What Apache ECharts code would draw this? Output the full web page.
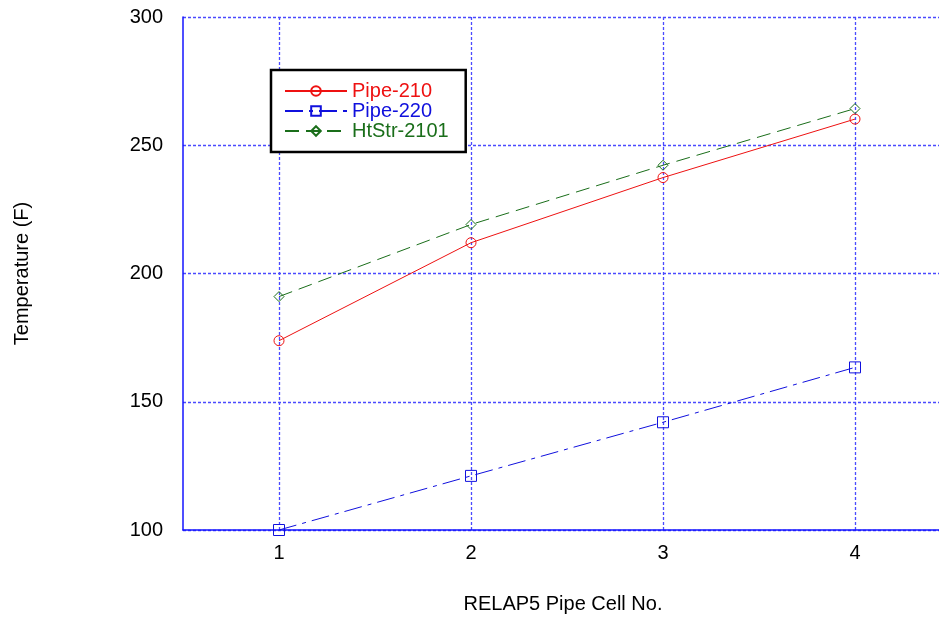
<!DOCTYPE html>
<html>
<head>
<meta charset="utf-8">
<script src="https://cdn.jsdelivr.net/npm/echarts@6/dist/echarts.min.js"></script>
<style>html,body{margin:0;padding:0;background:#fff;overflow:hidden}#c{width:939px;height:620px}</style>
</head>
<body>
<div id="c"></div>
<script>
const cells = [1, 2, 3, 4];
const pipe210 = [173.8, 212.0, 237.4, 260.2];
const pipe220 = [100.0, 121.1, 142.0, 163.4];
const htStr2101 = [191.0, 219.1, 242.2, 264.3];
const seriesNames = ['Pipe-210', 'Pipe-220', 'HtStr-2101'];
const yTicks = [100, 150, 200, 250, 300];

const FONT = 'Liberation Sans, Arial, sans-serif';
const red = '#ee1111', blue = '#1010dd', green = '#1a6e1a';
const gridBlue = '#4a4aff';

function pts(vals) { return cells.map((c, i) => [c, vals[i]]); }

const chart = echarts.init(document.getElementById('c'), null, {renderer: 'canvas'});
chart.setOption({
  animation: false,
  backgroundColor: '#fff',
  grid: {left: 183, top: 17, width: 768, height: 513, containLabel: false, outerBoundsMode: 'none'},
  legend: {
    left: 271, top: 70, orient: 'vertical',
    backgroundColor: '#fff',
    borderColor: '#000', borderWidth: 2.5,
    padding: [11, 17, 11, 13],
    itemWidth: 62, itemHeight: 12, itemGap: 0,
    textStyle: {fontFamily: FONT, fontSize: 20, padding: [0, 0, 0, 0]},
    data: [
      {name: seriesNames[0], textStyle: {color: red}},
      {name: seriesNames[1], textStyle: {color: blue}},
      {name: seriesNames[2], textStyle: {color: green}}
    ]
  },
  xAxis: {
    type: 'value', min: 0.5, max: 4.5,
    name: 'RELAP5 Pipe Cell No.', nameLocation: 'middle', nameGap: 64,
    nameTextStyle: {fontFamily: FONT, fontSize: 20, color: '#000', padding: [0, 8, 0, 0]},
    axisLine: {show: true, lineStyle: {color: '#1515ff', width: 1.5}},
    axisTick: {show: false, customValues: cells},
    axisLabel: {customValues: cells, fontFamily: FONT, fontSize: 20, color: '#000', margin: 13},
    splitLine: {show: true, lineStyle: {color: gridBlue, type: [3, 2], width: 1.3}}
  },
  yAxis: {
    type: 'value', min: yTicks[0], max: yTicks[yTicks.length - 1], interval: 50,
    name: 'Temperature (F)', nameLocation: 'middle', nameGap: 151, nameRotate: 90,
    nameTextStyle: {fontFamily: FONT, fontSize: 20, color: '#000'},
    axisLine: {show: true, lineStyle: {color: '#1515ff', width: 1.5}},
    axisTick: {show: false},
    axisLabel: {fontFamily: FONT, fontSize: 20, color: '#000', margin: 20},
    splitLine: {show: true, lineStyle: {color: gridBlue, type: [3, 2], width: 1.3}}
  },
  series: [
    {
      name: seriesNames[0], type: 'line', data: pts(pipe210),
      symbol: 'circle', symbolSize: 10,
      lineStyle: {color: red, width: 1},
      itemStyle: {color: 'rgba(255,255,255,0)', borderColor: red, borderWidth: 1}
    },
    {
      name: seriesNames[1], type: 'line', data: pts(pipe220),
      symbol: 'rect', symbolSize: 11,
      lineStyle: {color: blue, width: 1, type: [18, 6, 4, 6]},
      itemStyle: {color: 'rgba(255,255,255,0)', borderColor: blue, borderWidth: 1}
    },
    {
      name: seriesNames[2], type: 'line', data: pts(htStr2101),
      symbol: 'diamond', symbolSize: 10,
      lineStyle: {color: green, width: 1, type: [14, 7]},
      itemStyle: {color: 'rgba(255,255,255,0)', borderColor: green, borderWidth: 1}
    }
  ]
});
</script>
</body>
</html>
